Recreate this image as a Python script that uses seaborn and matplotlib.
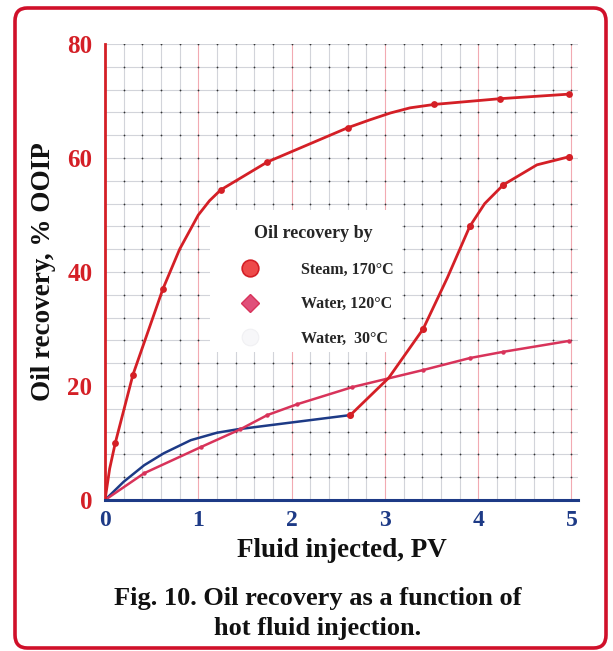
import numpy as np
import pandas as pd
import seaborn as sns
import matplotlib
matplotlib.use("Agg")
import matplotlib.pyplot as plt
from matplotlib.lines import Line2D
from matplotlib.patches import FancyBboxPatch

# ---- data ----
# steam 170 C: curve trace and the marked points
steam_pv = [0, 0.05, 0.11, 0.30, 0.62, 0.80, 1.00, 1.12, 1.24, 1.74, 2.17, 2.60, 2.84, 3.06, 3.27, 3.53, 4.23, 4.97]
steam_rec = [0, 5.5, 10.0, 22.0, 37.0, 44.0, 50.0, 52.5, 54.4, 59.3, 62.3, 65.3, 66.7, 67.9, 68.8, 69.4, 70.4, 71.2]
steam_mark_pv = [0.11, 0.30, 0.62, 1.24, 1.74, 2.60, 3.53, 4.23, 4.97]
steam_mark_rec = [10.0, 22.0, 37.0, 54.4, 59.3, 65.3, 69.4, 70.4, 71.2]

water120_pv = [0, 0.42, 1.03, 1.45, 1.74, 2.06, 2.65, 3.41, 3.91, 4.27, 4.97]
water120_rec = [0, 4.7, 9.3, 12.4, 14.9, 16.8, 19.8, 22.8, 24.9, 26.0, 27.9]

water30_pv = [0, 0.20, 0.42, 0.63, 0.92, 1.20, 1.42, 2.00, 2.63]
water30_rec = [0, 3.2, 6.1, 8.2, 10.5, 11.8, 12.4, 13.6, 14.9]

# steam injection following the 30 C water flood
steam2_pv = [2.63, 3.04, 3.41, 3.67, 3.91, 4.07, 4.27, 4.63, 4.97]
steam2_rec = [14.9, 21.4, 30.0, 39.0, 48.0, 52.0, 55.3, 58.8, 60.2]
steam2_mark_pv = [2.63, 3.41, 3.91, 4.27, 4.97]
steam2_mark_rec = [14.9, 30.0, 48.0, 55.3, 60.2]

x_ticks = [0, 1, 2, 3, 4, 5]
y_ticks = [0, 20, 40, 60, 80]
legend_labels = ["Steam, 170\u00b0C", "Water, 120\u00b0C", "Water,  30\u00b0C"]

RED = "#d41f26"
PINK = "#d8335a"
BLUE = "#1d3a86"
BORDER = "#d0102a"

sns.set_theme(style="white")
plt.rcParams["font.family"] = ["Liberation Serif", "DejaVu Serif"]
plt.rcParams["font.weight"] = "bold"

fig = plt.figure(figsize=(6.13, 6.51), dpi=100)
ax = fig.add_axes([105 / 613, 151 / 651, 473 / 613, 456 / 651])

ax.set_xlim(0, 5.07)
ax.set_ylim(0, 80)

# grid: fine vertical lines every 0.2 PV, horizontal every 4 %
xs_minor = np.arange(0.2, 5.07, 0.2)
ys_minor = np.arange(4, 80.1, 4)
for xv in xs_minor:
    is_int = abs(xv - round(xv)) < 1e-6
    ax.axvline(xv, color="#f2aab2" if is_int else "#d2d4da", lw=0.8, zorder=0)
for yv in ys_minor:
    ax.axhline(yv, color="#d2d4da", lw=0.8, zorder=0)
gx, gy = np.meshgrid(xs_minor, ys_minor)
ax.scatter(gx.ravel(), gy.ravel(), s=1.6, color="#333333", zorder=0.5, linewidths=0)

# white legend area hides the grid behind it
ax.add_patch(plt.Rectangle((0.222, 0.325), 0.405, 0.31, transform=ax.transAxes,
                           facecolor="white", edgecolor="none", zorder=0.8))

# series
sns.lineplot(x=water30_pv, y=water30_rec, ax=ax, color=BLUE, lw=1.8,
             sort=False, estimator=None, zorder=3)
sns.lineplot(x=water120_pv, y=water120_rec, ax=ax, color=PINK, lw=1.8,
             marker="o", markersize=3.2, markeredgewidth=0,
             sort=False, estimator=None, zorder=3)
sns.lineplot(x=steam_pv, y=steam_rec, ax=ax, color=RED, lw=2.0,
             sort=False, estimator=None, zorder=4)
sns.scatterplot(x=steam_mark_pv, y=steam_mark_rec, ax=ax, color=RED,
                s=24, linewidth=0, zorder=5)
sns.lineplot(x=steam2_pv, y=steam2_rec, ax=ax, color=RED, lw=2.0,
             sort=False, estimator=None, zorder=4)
sns.scatterplot(x=steam2_mark_pv, y=steam2_mark_rec, ax=ax, color=RED,
                s=26, linewidth=0, zorder=5)

# axes styling
for s in ["top", "right"]:
    ax.spines[s].set_visible(False)
ax.spines["left"].set_color(RED)
ax.spines["left"].set_linewidth(2.0)
ax.spines["bottom"].set_color(BLUE)
ax.spines["bottom"].set_linewidth(2.2)
ax.spines["bottom"].set_zorder(6)
ax.spines["left"].set_zorder(6)

ax.set_xticks(x_ticks)
ax.set_yticks(y_ticks)
ax.set_xticklabels([str(t) for t in x_ticks], color=BLUE, fontsize=17, fontweight="bold")
ax.set_yticklabels([str(t) for t in y_ticks], color=RED, fontsize=18, fontweight="bold")
ax.tick_params(axis="x", length=0, pad=7)
ax.tick_params(axis="y", length=0, pad=9)
ax.grid(False)

ax.set_xlabel("Fluid injected, PV", fontsize=19.5, fontweight="bold", color="#111111", labelpad=5)
ax.set_ylabel("Oil recovery, % OOIP", fontsize=19.5, fontweight="bold", color="#111111", labelpad=8)

# legend
handles = [
    Line2D([], [], marker="o", linestyle="none", markersize=12,
           markerfacecolor="#ee4a4a", markeredgecolor=RED, markeredgewidth=1.2),
    Line2D([], [], marker="D", linestyle="none", markersize=9,
           markerfacecolor="#e0507a", markeredgecolor=PINK, markeredgewidth=1.0),
    Line2D([], [], marker="o", linestyle="none", markersize=12,
           markerfacecolor="#f7f7f9", markeredgecolor="#f0f0f3", markeredgewidth=0.8),
]
leg = ax.legend(handles, legend_labels, title="Oil recovery by",
                loc="upper left", bbox_to_anchor=(0.245, 0.63),
                frameon=False, fontsize=11.5, title_fontsize=13,
                handletextpad=2.2, labelspacing=1.15, borderpad=0.3)
leg.get_title().set_fontweight("bold")
leg._legend_box.align = "center"
leg._legend_box.sep = 14
for t in leg.get_texts():
    t.set_fontweight("bold")
leg.set_zorder(7)

# caption
fig.text(318 / 613, 1 - 598 / 651, "Fig. 10. Oil recovery as a function of",
         ha="center", va="center", fontsize=19, fontweight="bold", color="#111111")
fig.text(318 / 613, 1 - 629 / 651, "hot fluid injection.",
         ha="center", va="center", fontsize=19, fontweight="bold", color="#111111")

# rounded red frame
frame = FancyBboxPatch((15 / 613, 3 / 651), 591 / 613, 640 / 651,
                       boxstyle="round,pad=0,rounding_size=0.02",
                       transform=fig.transFigure, facecolor="none",
                       edgecolor=BORDER, lw=2.6, zorder=10)
fig.patches.append(frame)

fig.savefig("out.png", dpi=100, facecolor="white")
